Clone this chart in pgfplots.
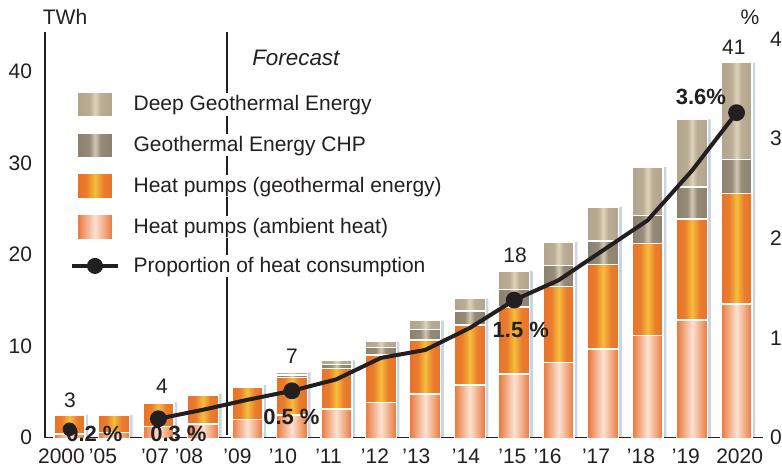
\documentclass[border=0pt]{standalone}
\usepackage{pgfplots}
\pgfplotsset{compat=1.18}
\usepackage{pgfplotstable}
\usepackage{fontspec}
\setmainfont{Liberation Sans}
\definecolor{txt}{HTML}{231F20}
\definecolor{ambE}{HTML}{E9773A}
\definecolor{ambM}{HTML}{FCE2D2}
\definecolor{geoE}{HTML}{E8722A}
\definecolor{geoM}{HTML}{F5BE3C}
\definecolor{chpE}{HTML}{8C806E}
\definecolor{chpM}{HTML}{D2C8B2}
\definecolor{deepE}{HTML}{B2A38C}
\definecolor{deepM}{HTML}{DED3B9}
\definecolor{shadow}{HTML}{C8D5E2}
\newcommand{\fs}{\fontsize{10.5pt}{12pt}\selectfont}
\newcommand{\fb}{\fontsize{11pt}{13pt}\selectfont\bfseries}

\pgfdeclarehorizontalshading{ambSh}{100bp}{color(0bp)=(ambE); color(25bp)=(ambE); color(50bp)=(ambM); color(75bp)=(ambE); color(100bp)=(ambE)}
\pgfdeclarehorizontalshading{geoSh}{100bp}{color(0bp)=(geoE); color(25bp)=(geoE); color(38bp)=(geoE!85!geoM); color(50bp)=(geoM); color(62bp)=(geoE!85!geoM); color(75bp)=(geoE); color(100bp)=(geoE)}
\pgfdeclarehorizontalshading{chpSh}{100bp}{color(0bp)=(chpE); color(25bp)=(chpE); color(42bp)=(chpE!85!chpM); color(50bp)=(chpM); color(58bp)=(chpE!85!chpM); color(75bp)=(chpE); color(100bp)=(chpE)}
\pgfdeclarehorizontalshading{deepSh}{100bp}{color(0bp)=(deepE); color(25bp)=(deepE); color(42bp)=(deepE!80!deepM); color(50bp)=(deepM); color(58bp)=(deepE!80!deepM); color(75bp)=(deepE); color(100bp)=(deepE)}

\pgfplotstableread{
x amb geo chp deep total
0 0.40 2.10 0 0 2.5
1 0.55 1.95 0 0 2.5
2 1.20 2.55 0.05 0.10 3.9
3 1.50 3.10 0.05 0.20 4.85
4 2.00 3.50 0.10 0.15 5.75
5 2.50 4.10 0.25 0.30 7.15
6 3.14 4.44 0.44 0.47 8.49
7 3.87 5.17 0.80 0.66 10.5
8 4.78 5.90 1.17 0.95 12.8
9 5.76 6.54 1.55 1.35 15.2
10 6.96 7.34 1.90 2.00 18.2
11 8.24 8.26 2.30 2.60 21.4
12 9.70 9.20 2.60 3.70 25.2
13 11.15 10.05 3.10 5.30 29.6
14 12.86 11.04 3.50 7.40 34.8
15 14.60 12.10 3.70 10.60 41.0
}\bardata

\pgfplotstableread{
x share
2 0.19
3 0.28
4 0.38
5 0.47
6 0.585
7 0.80
8 0.88
9 1.10
10 1.38
11 1.58
12 1.88
13 2.18
14 2.68
15 3.26
}\sharedata

% each stacked segment: a shaded column from its cumulative top down (clipped at the axis),
% drawn top series first so lower series cover the rest
\newcommand{\defbarmark}[2]{%
  \pgfdeclareplotmark{#1}{%
    \path[draw=white, line width=0.7pt, shade, shading=#2Sh, shading angle=0]
      (-7.75pt,-260pt) rectangle (7.75pt,0pt);}}
\defbarmark{barAmb}{amb}
\defbarmark{barGeo}{geo}
\defbarmark{barChp}{chp}
\defbarmark{barDeep}{deep}

\pgfplotsset{
 ambS/.style={draw=white, line width=0.7pt, shade, shading=ambSh, shading angle=0},
 geoS/.style={draw=white, line width=0.7pt, shade, shading=geoSh, shading angle=0},
 chpS/.style={draw=white, line width=0.7pt, shade, shading=chpSh, shading angle=0},
 deepS/.style={draw=white, line width=0.7pt, shade, shading=deepSh, shading angle=0},
 patchlegend/.style={legend image code/.code={\path[##1] (2.75pt,-6.25pt) rectangle (20.25pt,6.25pt);}},
 linelegend/.style={legend image code/.code={\draw[mark repeat=2, mark phase=2, ##1] plot coordinates {(0pt,0pt) (11.5pt,0pt) (23pt,0pt)};}},
 common/.style={at={(0,0)}, anchor=south west, width=359pt, height=202.85pt, scale only axis,
   xmin=-0.551, xmax=15.595},
}

\begin{document}
\begin{tikzpicture}
\useasboundingbox (-22.5pt,-15.65pt) rectangle (368.5pt,218.85pt);
% shadows
\begin{axis}[common, ymin=0, ymax=44.34, hide axis, ybar, bar width=15.5pt, clip=false]
\addplot[fill=shadow, draw=none, bar shift=1.6pt] table[x=x, y=total]{\bardata};
\end{axis}
% stacked bars
\begin{axis}[common, ymin=0, ymax=44.34, clip=true, clip marker paths=true,
  axis x line=bottom, axis y line=left,
  axis line style={-, draw=txt, line width=0.6pt},
  ytick={0,10,20,30,40},
  xtick={-0.18,0.753,1.923,2.687,3.778,4.80,5.824,6.87,7.80,8.916,9.96,10.75,11.84,12.85,13.86,15.07},
  xticklabels={2000,’05,’07,’08,’09,’10,’11,’12,’13,’14,’15,’16,’17,’18,’19,2020},
  major tick length=0,
  tick label style={font=\fs, text=txt},
  /pgf/number format/assume math mode=true,
  yticklabel style={xshift=-3pt},
  xticklabel style={yshift=-2pt},
]
\addplot[only marks, mark=barDeep]
  table[x=x, y expr=\thisrow{amb}+\thisrow{geo}+\thisrow{chp}+\thisrow{deep}]{\bardata};
\addplot[only marks, mark=barChp]
  table[x=x, y expr=\thisrow{amb}+\thisrow{geo}+\thisrow{chp}]{\bardata};
\addplot[only marks, mark=barGeo]
  table[x=x, y expr=\thisrow{amb}+\thisrow{geo}]{\bardata};
\addplot[only marks, mark=barAmb]
  table[x=x, y=amb]{\bardata};
\draw[txt, line width=0.6pt] (axis cs:3.54,0.3) -- (axis cs:3.54,44.34);
\end{axis}
% share line, texts and legend
\begin{axis}[common, ymin=0, ymax=4.069, clip=false,
  axis x line=none, axis y line=right,
  y axis line style={draw=none},
  ytick={0,1,2,3,4},
  major tick length=0,
  tick label style={font=\fs, text=txt},
  /pgf/number format/assume math mode=true,
  legend cell align=left,
  legend style={at={(0.0348,0.855)}, anchor=north west, draw=none, fill=none, inner sep=0pt,
    row sep=7.25pt, column sep=6pt, font=\fs, text=txt, nodes={fill=white, inner sep=1pt}},
]
\node[font=\fontsize{11.2pt}{13pt}\selectfont\itshape, text=txt] at (axis cs:5.09,3.809) {Forecast};
\node[font=\fs, text=txt] at (axis cs:-0.10,4.221) {TWh};
\node[font=\fs, text=txt] at (axis cs:15.30,4.221) {\%};
\node[font=\fs, text=txt] at (axis cs:0.01,0.378) {3};
\node[font=\fs, text=txt] at (axis cs:2.08,0.519) {4};
\node[font=\fs, text=txt] at (axis cs:5.0,0.820) {7};
\node[font=\fs, text=txt] at (axis cs:10.02,1.833) {18};
\node[font=\fs, text=txt] at (axis cs:14.94,3.916) {41};
\node[font=\fb, text=txt] at (axis cs:0.56,0.037) {0.2 \%};
\node[font=\fb, text=txt] at (axis cs:2.45,0.037) {0.3 \%};
\node[font=\fb, text=txt] at (axis cs:4.99,0.211) {0.5 \%};
\node[font=\fb, text=txt] at (axis cs:10.15,1.080) {1.5 \%};
\node[font=\fb, text=txt] at (axis cs:14.20,3.420) {3.6\%};
\addplot[forget plot, txt, line width=2pt, line join=round, mark=*, mark size=3.2pt,
  mark indices={1,4,9,14}] table[x=x, y=share]{\sharedata};
\addplot[forget plot, only marks, txt, mark=*, mark size=3.2pt] coordinates {(0,0.084)};
\addlegendimage{deepS, patchlegend}
\addlegendimage{chpS, patchlegend}
\addlegendimage{geoS, patchlegend}
\addlegendimage{ambS, patchlegend}
\addlegendimage{txt, line width=1.6pt, mark=*, mark size=3.2pt, linelegend}
\legend{Deep Geothermal Energy, Geothermal Energy CHP, Heat pumps (geothermal energy), Heat pumps (ambient heat), Proportion of heat consumption}
\end{axis}
\end{tikzpicture}
\end{document}
